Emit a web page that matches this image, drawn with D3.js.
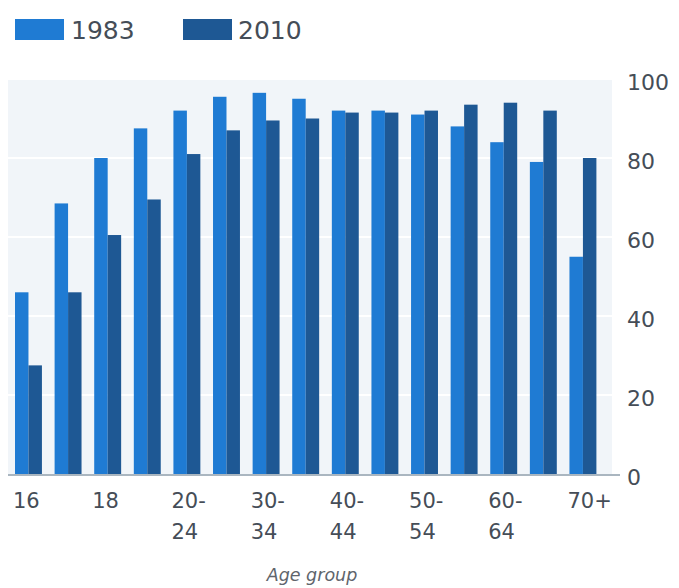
<!DOCTYPE html>
<html>
<head>
<meta charset="utf-8">
<script src="https://cdn.jsdelivr.net/npm/d3@7"></script>
<style>
  html, body { margin: 0; padding: 0; background: #ffffff; }
  svg { display: block; }
</style>
</head>
<body>
<svg id="chart" width="679" height="588"></svg>
<script>
const categories = ["16","17","18","19","20-24","25-29","30-34","35-39","40-44","45-49","50-54","55-59","60-64","65-69","70+"];
const series = ["1983","2010"];
const values1983 = [46, 68.5, 80, 87.5, 92, 95.5, 96.5, 95, 92, 92, 91, 88, 84, 79, 55];
const values2010 = [27.5, 46, 60.5, 69.5, 81, 87, 89.5, 90, 91.5, 91.5, 92, 93.5, 94, 92, 80];
const yTicks = [0, 20, 40, 60, 80, 100];
const xTickLabels = {"16": ["16"], "18": ["18"], "20-24": ["20-","24"], "30-34": ["30-","34"], "40-44": ["40-","44"], "50-54": ["50-","54"], "60-64": ["60-","64"], "70+": ["70+"]};
const colors = {"1983": "#1f7bd3", "2010": "#1e5894"};

const svg = d3.select("#chart");
const textColor = "#454d57";
const font = "DejaVu Sans, sans-serif";

const x = d3.scaleBand().domain(categories).range([15, 596.4]).paddingInner(0.32).paddingOuter(0);
const xs = d3.scaleBand().domain(series).range([0, x.bandwidth()]).padding(0);
const y = d3.scaleLinear().domain([0, 100]).range([474, 79]);

// plot background
svg.append("rect").attr("x", 8).attr("y", y(100)).attr("width", 612 - 8).attr("height", y(0) - y(100)).attr("fill", "#f1f5f9");

// gridlines
svg.append("g").selectAll("line").data(yTicks.filter(d => d > 0)).join("line")
  .attr("x1", 8).attr("x2", 612)
  .attr("y1", d => y(d)).attr("y2", d => y(d))
  .attr("stroke", "#ffffff").attr("stroke-width", 2);

// bars
const data = categories.map((c, i) => ({cat: c, vals: [{s: "1983", v: values1983[i]}, {s: "2010", v: values2010[i]}]}));
const groups = svg.append("g").selectAll("g").data(data).join("g")
  .attr("transform", d => `translate(${x(d.cat)},0)`);
groups.selectAll("rect").data(d => d.vals).join("rect")
  .attr("x", d => xs(d.s)).attr("width", xs.bandwidth())
  .attr("y", d => y(d.v)).attr("height", d => y(0) - y(d.v))
  .attr("fill", d => colors[d.s]);

// baseline
svg.append("line").attr("x1", 8).attr("x2", 620).attr("y1", y(0) + 1).attr("y2", y(0) + 1)
  .attr("stroke", "#aab6c0").attr("stroke-width", 2);

// y axis labels on right
const yAxis = d3.axisRight(y).tickValues(yTicks).tickSize(0).tickPadding(0);
const yg = svg.append("g").attr("transform", "translate(627,3)").call(yAxis);
yg.select(".domain").remove();
yg.selectAll("text").attr("font-family", font).attr("font-size", 22).attr("fill", textColor).attr("text-anchor", "start");

// x axis labels
const xg = svg.append("g");
const xl = xg.selectAll("text").data(categories.filter(c => xTickLabels[c])).join("text")
  .attr("font-family", font).attr("font-size", 21).attr("fill", textColor)
  .attr("text-anchor", "start");
xl.each(function(c) {
  const t = d3.select(this);
  xTickLabels[c].forEach((line, i) => {
    t.append("tspan").attr("x", x(c) - 2).attr("y", 508 + i * 31).text(line);
  });
});

// axis title
svg.append("text").attr("x", 312).attr("y", 581).attr("text-anchor", "middle")
  .attr("font-family", font).attr("font-style", "italic").attr("font-size", 17.5)
  .attr("fill", "#5f656c").text("Age group");

// legend
const legendPos = [{s: "1983", x: 15, tx: 71}, {s: "2010", x: 183, tx: 238}];
const lg = svg.append("g");
lg.selectAll("rect").data(legendPos).join("rect")
  .attr("x", d => d.x).attr("y", 19).attr("width", 49).attr("height", 21)
  .attr("fill", d => colors[d.s]);
lg.selectAll("text").data(legendPos).join("text")
  .attr("x", d => d.tx).attr("y", 39)
  .attr("font-family", font).attr("font-size", 25).attr("fill", textColor)
  .text(d => d.s);
</script>
</body>
</html>
